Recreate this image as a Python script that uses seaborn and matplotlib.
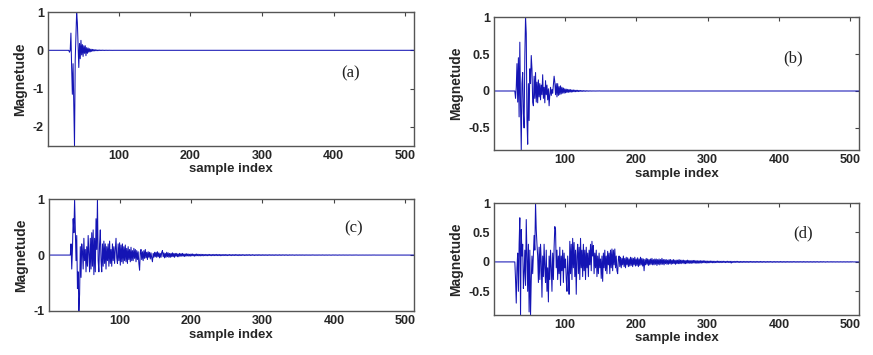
import numpy as np
import pandas as pd
import matplotlib
matplotlib.use('Agg')
import matplotlib.pyplot as plt
import seaborn as sns

# sample axis of every panel
N_SAMPLES = 512

# hand-read values, listed from the first non-zero sample on; everything else is flat zero
a_start = 31
a_vals = [
    -0.05, 0.0, 0.45, -0.45, -1.15, -0.35, -1.4, -2.5, -0.25, 0.35,
    1.0, 0.72, 0.1, -0.45, 0.18, -0.22, 0.26, -0.12, 0.15, -0.16,
    0.12, -0.08, 0.12, -0.14, 0.07, -0.08, 0.06, -0.05, 0.04, -0.04,
    0.03, -0.03, 0.025, -0.02, 0.02, -0.015, 0.015, -0.012, 0.01, -0.01,
    0.008, -0.008, 0.007, -0.006, 0.006, -0.005, 0.005, -0.004, 0.004, -0.004,
    0.003, -0.003, 0.003, -0.002, 0.002, -0.002, 0.002, -0.001, 0.001, -0.001,
]

b_start = 31
b_vals = [
    -0.1, 0.05, 0.37, -0.15, 0.45, -0.35, 0.66, -0.2, -0.8, 0.1,
    0.25, -0.3, -0.5, 0.47, 1.0, 0.78, -0.4, -0.72, 0.1, -0.4,
    0.3, 0.1, 0.48, 0.3, -0.15, -0.2, 0.2, -0.1, 0.25, -0.15,
    0.12, -0.16, 0.15, -0.08, 0.1, -0.12, 0.08, -0.05, 0.22, -0.1,
    0.05, -0.16, 0.14, -0.05, 0.08, -0.12, 0.03, -0.2, -0.05, 0.05,
    -0.06, 0.02, -0.03, 0.08, 0.2, 0.12, -0.05, 0.1, -0.08, 0.1,
    -0.06, 0.06, -0.05, 0.07, -0.04, 0.05, -0.03, 0.04, -0.03, 0.03,
    -0.025, 0.025, -0.02, 0.022, -0.018, 0.02, -0.015, 0.018, -0.015, 0.015,
    -0.012, 0.014, -0.01, 0.012, -0.01, 0.01, -0.008, 0.01, -0.008, 0.008,
    -0.006, 0.007, -0.005, 0.006, -0.005, 0.005, -0.004, 0.004, -0.004, 0.004,
    -0.003, 0.003, -0.003, 0.003, -0.002, 0.002, -0.002, 0.002, -0.001, 0.001,
    -0.001, 0.001, -0.001, 0.001, -0.001, 0.001, 0.0, 0.001, 0.0, 0.0,
]

c_start = 31
c_vals = [
    0.0, 0.2, -0.25, 0.1, 0.65, 0.4, 1.0, 0.45, -0.1, 0.35,
    -0.6, -0.3, -1.0, -0.7, 0.15, -0.4, 0.2, 0.05, -0.25, 0.3,
    -0.1, 0.1, -0.3, 0.15, -0.2, 0.35, 0.0, -0.3, 0.3, -0.25,
    0.4, -0.2, 0.45, -0.35, 0.3, -0.3, 0.65, 0.1, 1.0, -0.1,
    -0.3, 0.2, 0.45, -0.1, -0.3, 0.2, -0.2, 0.25, -0.15, 0.2,
    -0.25, 0.15, -0.1, 0.2, -0.2, 0.25, -0.15, 0.1, -0.2, 0.2,
    -0.1, 0.15, -0.15, 0.1, 0.3, -0.05, -0.15, 0.2, -0.1, 0.22,
    -0.18, 0.18, -0.12, 0.2, -0.15, 0.15, -0.1, 0.18, -0.12, 0.12,
    -0.15, 0.15, -0.08, 0.1, -0.12, 0.14, -0.1, 0.08, -0.1, 0.12,
    -0.06, 0.1, -0.12, 0.08, -0.08, 0.06, -0.15, -0.27, 0.05, 0.1,
    -0.08, 0.06, -0.1, 0.08, -0.06, 0.1, -0.05, 0.05, -0.08, 0.06,
    -0.04, 0.05, -0.07, 0.04, -0.05, -0.12, 0.03, -0.04, 0.05, -0.03,
    0.05, -0.04, 0.06, -0.03, 0.04, -0.05, 0.03, -0.04, 0.05, 0.08,
    -0.03, 0.04, -0.05, 0.03, -0.04, 0.05, -0.03, 0.04, -0.04, 0.03,
    -0.04, 0.03, -0.03, 0.04, -0.03, 0.03, -0.04, 0.03, -0.02, 0.03,
    -0.03, 0.02, -0.03, 0.03, -0.02, 0.025, -0.02, 0.03, -0.02, 0.02,
    -0.025, 0.02, -0.02, 0.025, -0.015, 0.02, -0.02, 0.015, -0.02, 0.02,
    -0.015, 0.02, -0.015, 0.015, -0.02, 0.015, -0.015, 0.02, -0.012, 0.015,
    -0.015, 0.012, -0.015, 0.015, -0.012, 0.012, -0.015, 0.012, -0.01, 0.012,
    -0.012, 0.01, -0.012, 0.012, -0.01, 0.012, -0.01, 0.01, -0.012, 0.01,
    -0.01, 0.012, -0.01, 0.01, -0.01, 0.012, -0.01, 0.01, -0.01, 0.01,
    -0.012, 0.01, -0.01, 0.008, -0.01, 0.01, -0.008, 0.01, -0.01, 0.008,
    -0.01, 0.008, -0.008, 0.01, -0.008, 0.008, -0.01, 0.008, -0.008, 0.008,
    -0.008, 0.01, -0.008, 0.008, -0.008, 0.008, -0.01, 0.008, -0.008, 0.008,
    -0.008, 0.008, -0.006, 0.008, -0.008, 0.006, -0.008, 0.008, -0.006, 0.008,
    -0.006, 0.008, -0.008, 0.006, -0.006, 0.008, -0.006, 0.006, -0.008, 0.006,
    -0.006, 0.006, -0.006, 0.008, -0.006, 0.006, -0.006, 0.006, -0.006, 0.006,
    -0.006, 0.006, -0.005, 0.006, -0.006, 0.005, -0.006, 0.006, -0.005, 0.006,
    -0.005, 0.006, -0.005, 0.005, -0.006, 0.005, -0.005, 0.006, -0.005, 0.005,
    -0.005, 0.005, -0.005, 0.006, -0.005, 0.005, -0.005, 0.005, -0.004, 0.005,
    -0.005, 0.005, -0.004, 0.005, -0.005, 0.004, -0.005, 0.005, -0.004, 0.005,
    -0.004, 0.005, -0.004, 0.004, -0.005, 0.004, -0.004, 0.005, -0.004, 0.004,
    -0.004, 0.004, -0.004, 0.005, -0.004, 0.004, -0.004, 0.004, -0.004, 0.004,
    -0.004, 0.004, -0.003, 0.004, -0.004, 0.003, -0.004, 0.004, -0.003, 0.004,
    -0.003, 0.004, -0.003, 0.003, -0.004, 0.003, -0.003, 0.004, -0.003, 0.003,
    -0.003, 0.003, -0.003, 0.004, -0.003, 0.003, -0.003, 0.003, -0.003, 0.003,
    -0.003, 0.003, -0.002, 0.003, -0.003, 0.002, -0.003, 0.003, -0.002, 0.003,
    -0.002, 0.003, -0.002, 0.002, -0.003, 0.002, -0.002, 0.003, -0.002, 0.002,
    -0.002, 0.002, -0.002, 0.003, -0.002, 0.002, -0.002, 0.002, -0.002, 0.002,
    -0.002, 0.002, -0.001, 0.002, -0.002, 0.001, -0.002, 0.002, -0.001, 0.002,
    -0.001, 0.002, -0.001, 0.001, -0.002, 0.001, -0.001, 0.001, -0.001, 0.001,
    -0.001, 0.001, -0.001, 0.001, -0.001, 0.001, -0.001, 0.001, -0.001, 0.001,
    -0.001, 0.001, -0.001, 0.001, 0.0, 0.001, 0.0, 0.0, 0.0, 0.0,
]

d_start = 31
d_vals = [
    -0.3, -0.7, -0.1, 0.15, -0.5, 0.3, 0.75, -0.9, 0.55, 0.1,
    0.3, -0.45, -0.2, 0.2, -0.4, 0.72, 0.1, -0.5, 0.3, -0.85,
    0.2, -0.9, -0.3, 0.1, -0.2, 0.15, 0.45, 0.2, 1.0, 0.55,
    0.3, 0.1, -0.35, 0.25, -0.3, 0.3, 0.0, -0.6, 0.1, -0.25,
    0.3, -0.1, -0.35, 0.2, -0.5, -0.1, -0.68, 0.1, -0.3, 0.2,
    -0.1, -0.5, 0.15, -0.3, 0.25, 0.6, 0.55, -0.1, 0.2, -0.3,
    0.1, -0.2, 0.25, -0.4, 0.1, -0.15, 0.2, -0.35, 0.15, -0.1,
    0.05, -0.3, -0.5, 0.1, -0.2, -0.55, 0.35, -0.2, 0.3, -0.3,
    0.4, -0.1, 0.33, -0.25, 0.2, -0.55, 0.1, 0.3, -0.2, 0.25,
    -0.3, 0.4, -0.1, 0.2, -0.25, 0.3, -0.15, 0.2, -0.3, 0.25,
    -0.1, 0.15, -0.25, 0.2, -0.05, 0.3, -0.15, 0.35, 0.1, 0.28,
    -0.2, 0.15, -0.1, 0.2, -0.25, 0.1, -0.2, 0.15, -0.1, 0.05,
    -0.28, 0.1, -0.33, 0.15, -0.1, 0.2, -0.15, 0.1, -0.2, 0.18,
    -0.05, 0.15, -0.2, 0.2, -0.1, 0.22, -0.15, 0.2, -0.05, 0.22,
    -0.1, 0.1, -0.15, -0.2, 0.05, 0.1, -0.08, 0.08, -0.1, 0.06,
    -0.05, 0.1, -0.08, 0.06, -0.1, 0.08, -0.05, 0.07, -0.08, 0.05,
    -0.07, 0.08, -0.06, 0.07, -0.08, 0.06, -0.05, 0.08, -0.07, 0.05,
    -0.06, 0.07, -0.08, 0.05, -0.06, 0.08, -0.05, 0.06, -0.07, 0.05,
    -0.15, 0.04, -0.05, 0.06, -0.04, 0.05, -0.06, 0.04, -0.05, 0.05,
    -0.04, 0.06, -0.05, 0.04, -0.05, 0.05, -0.04, 0.05, -0.06, 0.04,
    -0.04, 0.05, -0.05, 0.04, -0.04, 0.06, -0.04, 0.04, -0.05, 0.04,
    -0.03, 0.04, -0.04, 0.03, -0.04, 0.04, -0.03, 0.04, -0.04, 0.03,
    -0.03, 0.04, -0.03, 0.03, -0.04, 0.03, -0.03, 0.03, -0.03, 0.04,
    -0.03, 0.03, -0.03, 0.03, -0.02, 0.03, -0.03, 0.025, -0.03, 0.025,
    -0.025, 0.03, -0.02, 0.025, -0.025, 0.02, -0.025, 0.025, -0.02, 0.025,
    -0.02, 0.025, -0.02, 0.02, -0.025, 0.02, -0.02, 0.02, -0.02, 0.02,
    -0.02, 0.02, -0.015, 0.02, -0.015, 0.02, -0.015, 0.015, -0.02, 0.015,
    -0.015, 0.015, -0.015, 0.015, -0.012, 0.015, -0.015, 0.012, -0.015, 0.012,
    -0.012, 0.012, -0.012, 0.015, -0.01, 0.012, -0.012, 0.01, -0.012, 0.012,
    -0.01, 0.012, -0.01, 0.01, -0.012, 0.01, -0.01, 0.012, -0.01, 0.01,
    -0.01, 0.01, -0.02, 0.01, -0.01, 0.008, -0.01, 0.01, -0.008, 0.01,
    -0.008, 0.01, -0.008, 0.008, -0.01, 0.008, -0.008, 0.008, -0.008, 0.008,
    -0.008, 0.008, -0.007, 0.008, -0.008, 0.007, -0.008, 0.008, -0.007, 0.008,
    -0.007, 0.008, -0.007, 0.007, -0.008, 0.007, -0.007, 0.008, -0.007, 0.007,
    -0.007, 0.007, -0.007, 0.008, -0.007, 0.007, -0.007, 0.007, -0.006, 0.007,
    -0.007, 0.006, -0.007, 0.007, -0.006, 0.007, -0.006, 0.007, -0.006, 0.006,
    -0.007, 0.006, -0.006, 0.007, -0.006, 0.006, -0.006, 0.006, -0.006, 0.006,
    -0.006, 0.007, -0.006, 0.006, -0.006, 0.006, -0.006, 0.006, -0.006, 0.006,
    -0.006, 0.006, -0.005, 0.006, -0.006, 0.005, -0.006, 0.006, -0.005, 0.006,
    -0.005, 0.006, -0.005, 0.005, -0.006, 0.005, -0.005, 0.006, -0.005, 0.005,
    -0.005, 0.005, -0.005, 0.006, -0.005, 0.005, -0.005, 0.005, -0.005, 0.005,
    -0.005, 0.005, -0.005, 0.005, -0.005, 0.005, -0.005, 0.005, -0.005, 0.005,
    -0.005, 0.005, -0.004, 0.005, -0.005, 0.004, -0.005, 0.005, -0.004, 0.005,
    -0.004, 0.005, -0.004, 0.004, -0.005, 0.004, -0.004, 0.005, -0.004, 0.004,
    -0.004, 0.004, -0.004, 0.005, -0.004, 0.004, -0.004, 0.004, -0.004, 0.004,
    -0.004, 0.004, -0.004, 0.004, -0.004, 0.004, -0.004, 0.004, -0.004, 0.004,
    -0.004, 0.004, -0.004, 0.004, -0.004, 0.004, -0.004, 0.004, -0.004, 0.004,
    -0.004, 0.004,
]

panel_tags = ['(a)', '(b)', '(c)', '(d)']
y_limits = [(-2.5, 1.0), (-0.8, 1.0), (-1.0, 1.0), (-0.9, 1.0)]
y_ticks = [[-2, -1, 0, 1], [-0.5, 0, 0.5, 1], [-1, 0, 1], [-0.5, 0, 0.5, 1]]
y_ticklabels = [['-2', '-1', '0', '1'], ['-0.5', '0', '0.5', '1'],
                ['-1', '0', '1'], ['-0.5', '0', '0.5', '1']]
x_ticks = [100, 200, 300, 400, 500]
tag_pos = [(423, -0.6), (419, 0.44), (427, 0.47), (433, 0.48)]


def full_signal(start, vals):
    """Pad the hand-read part with the flat zero baseline on both sides."""
    pre = [0.0] * (start - 1)
    post = [0.0] * (N_SAMPLES - (start - 1) - len(vals))
    return pre + list(vals) + post


signals = [full_signal(a_start, a_vals), full_signal(b_start, b_vals),
           full_signal(c_start, c_vals), full_signal(d_start, d_vals)]
sample_idx = np.arange(1, N_SAMPLES + 1)

sns.set_style('white')
plt.rcParams['font.family'] = ['Liberation Sans', 'DejaVu Sans']
plt.rcParams['axes.unicode_minus'] = False

fig = plt.figure(figsize=(8.73, 3.55), dpi=100)
boxes = [[0.055, 0.589, 0.419, 0.377],
         [0.566, 0.577, 0.418, 0.375],
         [0.056, 0.124, 0.418, 0.315],
         [0.566, 0.113, 0.418, 0.315]]

for i in range(4):
    ax = fig.add_axes(boxes[i])
    df = pd.DataFrame({'sample': sample_idx, 'mag': signals[i]})
    sns.lineplot(data=df, x='sample', y='mag', ax=ax, color='#1414b4',
                 linewidth=0.75, estimator=None, sort=False)
    ax.set_xlim(1, 512)
    ax.set_ylim(*y_limits[i])
    ax.set_xticks(x_ticks)
    ax.set_xticklabels([str(t) for t in x_ticks], fontweight='bold', fontsize=9)
    ax.set_yticks(y_ticks[i])
    ax.set_yticklabels(y_ticklabels[i], fontweight='bold', fontsize=9)
    ax.tick_params(direction='in', length=3, width=0.8, top=True, right=True,
                   color='#444444', pad=3)
    for sp in ax.spines.values():
        sp.set_color('#555555')
        sp.set_linewidth(1.0)
    ax.set_xlabel('sample index', fontweight='bold', fontsize=9.5, labelpad=1)
    ax.set_ylabel('Magnetude', fontweight='bold', fontsize=10, labelpad=4)
    ax.text(tag_pos[i][0], tag_pos[i][1], panel_tags[i], ha='center', va='center',
            fontsize=12, family='Liberation Serif', color='#222222')

fig.savefig('out.png', dpi=100)
